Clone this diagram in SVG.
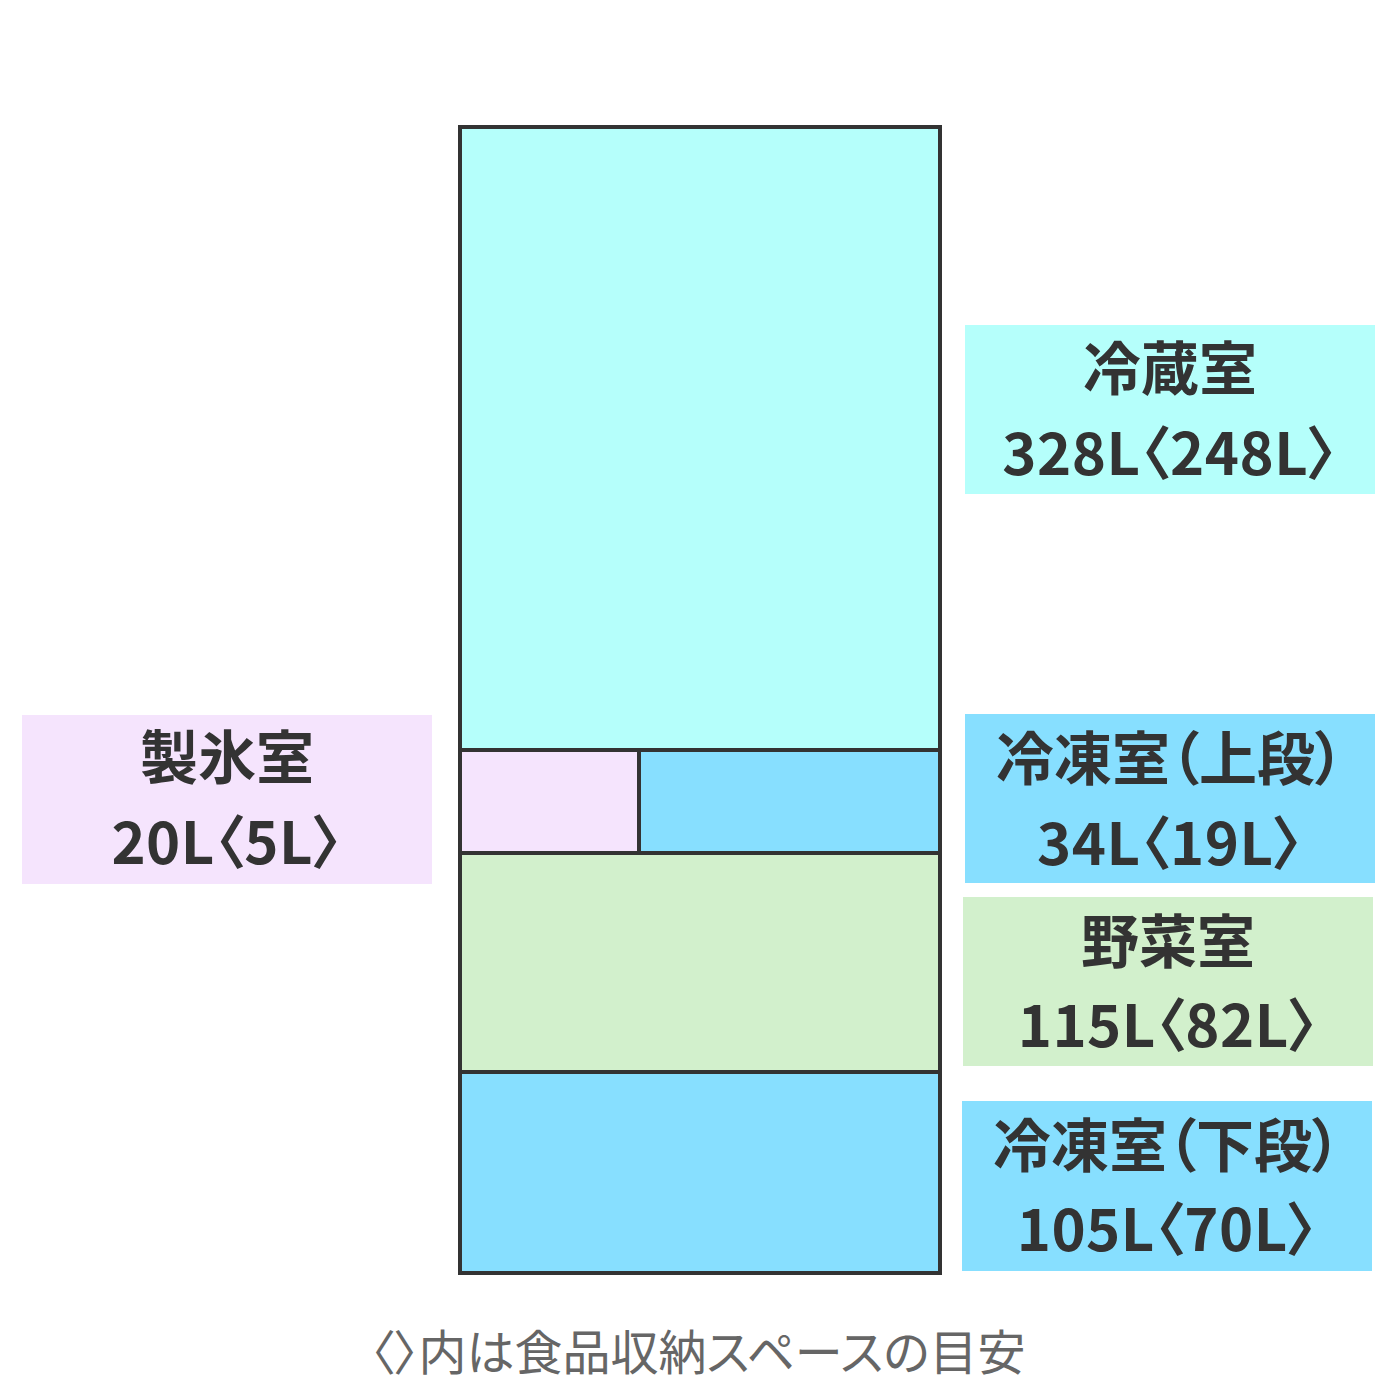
<svg xmlns="http://www.w3.org/2000/svg" width="1400" height="1400" viewBox="0 0 1400 1400">
<style>
.lbl{font-family:"Noto Sans CJK JP","Noto Sans",sans-serif;font-weight:700;font-size:58px;fill:#333;text-anchor:middle;font-feature-settings:"palt"}
.num{letter-spacing:0.5px}
.note{font-family:"Noto Sans CJK JP","Noto Sans",sans-serif;font-weight:400;font-size:48px;fill:#666;text-anchor:middle;font-feature-settings:"palt"}
.wall{stroke:#333;stroke-width:4;fill:none}
</style>
<rect width="1400" height="1400" fill="#fff"/>
<g id="fridge">
<rect x="460" y="127" width="480" height="623" fill="#b5fffb"/>
<rect x="460" y="750" width="179" height="103" fill="#f5e4fd"/>
<rect x="639" y="750" width="301" height="103" fill="#87dfff"/>
<rect x="460" y="853" width="480" height="219" fill="#d2f0cc"/>
<rect x="460" y="1072" width="480" height="201" fill="#87dfff"/>
<g class="wall">
<line x1="460" y1="750" x2="940" y2="750"/>
<line x1="460" y1="853" x2="940" y2="853"/>
<line x1="460" y1="1072" x2="940" y2="1072"/>
<line x1="639" y1="750" x2="639" y2="853"/>
<rect x="460" y="127" width="480" height="1146"/>
</g>
</g>
<g id="label-reizo">
<rect x="965" y="325" width="410" height="169" fill="#b5fffb"/>
<text class="lbl" x="1170" y="390">冷蔵室</text>
<text class="lbl num" x="1170" y="475">328L〈248L〉</text>
</g>
<g id="label-seihyo">
<rect x="22" y="715" width="410" height="169" fill="#f5e4fd"/>
<text class="lbl" x="227" y="779">製氷室</text>
<text class="lbl num" x="227" y="864">20L〈5L〉</text>
</g>
<g id="label-reito-upper">
<rect x="965" y="714" width="410" height="169" fill="#87dfff"/>
<text class="lbl" x="1170" y="780">冷凍室（上段）</text>
<text class="lbl num" x="1170" y="865">34L〈19L〉</text>
</g>
<g id="label-yasai">
<rect x="963" y="897" width="410" height="169" fill="#d2f0cc"/>
<text class="lbl" x="1168" y="963">野菜室</text>
<text class="lbl num" x="1168" y="1047">115L〈82L〉</text>
</g>
<g id="label-reito-lower">
<rect x="962" y="1101" width="410" height="170" fill="#87dfff"/>
<text class="lbl" x="1167" y="1167">冷凍室（下段）</text>
<text class="lbl num" x="1167" y="1251">105L〈70L〉</text>
</g>
<g id="note">
<text class="note" x="698" y="1370">〈〉内は食品収納スペースの目安</text>
</g>
</svg>
